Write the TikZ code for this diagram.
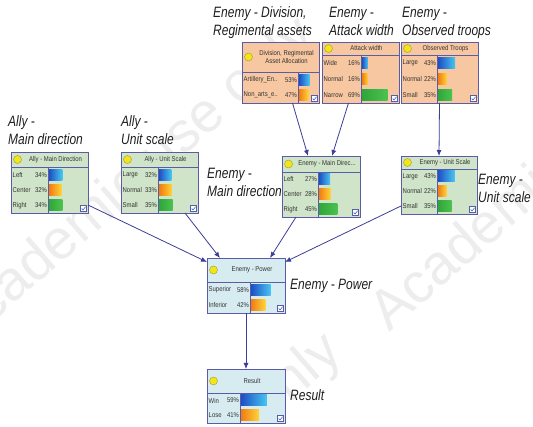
\documentclass[tikz,border=0pt]{standalone}
\usepackage{fontspec}
\setmainfont{Liberation Sans}
\newfontfamily\boxfont[FakeStretch=0.85]{Liberation Sans}
\newfontfamily\tagfont[FakeStretch=0.8]{Liberation Sans}
\usetikzlibrary{arrows.meta,calc}
\definecolor{bnedge}{HTML}{5B5BA6}
\definecolor{linkblue}{HTML}{3E3E94}
\definecolor{lampyellow}{HTML}{F2E51C}
\definecolor{lampedge}{HTML}{A09A30}
\definecolor{boxgreen}{HTML}{CFE4C8}
\definecolor{boxpeach}{HTML}{F7C7A1}
\definecolor{boxice}{HTML}{D7ECF1}
\definecolor{sbL}{HTML}{1E4FC4}
\definecolor{sbR}{HTML}{48C6F2}
\definecolor{orL}{HTML}{F07C12}
\definecolor{orR}{HTML}{FFD43A}
\definecolor{gnL}{HTML}{2EA63A}
\definecolor{gnR}{HTML}{4CC24E}
\definecolor{chkblue}{HTML}{3A6FD0}
\colorlet{tagtext}{black!88}
\colorlet{boxtext}{black!80}
\colorlet{wmgray}{black!7}
\tikzset{bnbox/.style={draw=bnedge, line width=0.9pt, inner sep=0pt, outer sep=0pt},
    bnline/.style={draw=bnedge, line width=0.7pt},
    lamp/.style={circle, fill=lampyellow, draw=lampedge, line width=0.4pt, minimum size=8pt, inner sep=0pt},
    bntitle/.style={font=\boxfont\fontsize{7}{7.5}\selectfont, align=center, inner sep=0pt, text=boxtext},
    bntext/.style={font=\boxfont\fontsize{7}{8}\selectfont, inner sep=0pt, text=boxtext},
    chk/.style={draw=bnedge, fill=white, line width=0.5pt, minimum size=6pt, inner sep=0pt},
    chkmark/.style={draw=chkblue, line width=0.6pt},
    link/.style={draw=linkblue, line width=0.8pt, -{Latex[length=6pt,width=5pt]}},
    tag/.style={font=\tagfont\itshape\fontsize{15}{18.5}\selectfont, align=left, anchor=base west, inner sep=0pt, text=tagtext},
    watermark/.style={font=\fontsize{56}{56}\selectfont, text=wmgray, rotate=41, inner sep=0pt}}
% name, fill, top left, width, height, title height, state column, title, states
\def\bnnode#1#2#3#4#5#6#7#8#9{%
    \node[bnbox, fill=#2, minimum width=#4, minimum height=#5, anchor=north west] (#1) at (#3) {};
    \draw[bnline] ($(#1.north west)+(0,#6)$) -- ($(#1.north east)+(0,#6)$)
                  ($(#1.north west)+(#7,#6)$) -- ($(#1.south west)+(#7,0)$);
    \node[lamp] at ($(#1.north west)+(6.5,{#6/2})$) {};
    \node[bntitle] at ($(#1.north)+(6,{#6/2})$) {#8};
    \foreach \st [count=\row] in {#9} {\xdef\nst{\row}}
    \pgfmathsetmacro\rowh{(#5-#6)/\nst}
    \foreach \sname/\pc/\col [count=\row] in {#9} {
        \coordinate (r) at ($(#1.north west)+(0,{#6+(\row-0.5)*\rowh})$);
        \node[bntext, anchor=west] at ($(r)+(1.5,0)$) {\sname};
        \node[bntext, anchor=east] at ($(r)+(#7-0.8,0)$) {\pc\%};
        \shade[left color=\col L, right color=\col R] ($(r)+(#7+1,-5.5)$) rectangle ++({\pc/100*(#4-#7-1)},11);
    }
    \node[chk] (#1-chk) at ($(#1.south east)+(-4.5,-4.5)$) {};
    \draw[chkmark] ($(#1-chk)+(-1.8,0)$) -- ++(1.3,1.5) -- ++(2.6,-3.2);
}

\begin{document}
\begin{tikzpicture}[x=1pt, y=-1pt]
    \useasboundingbox[fill=white] (0,0) rectangle (533,427);
    % watermark
    \node[watermark, anchor=west] (wm1) at (-47,338) {Academic use only};
    \node[watermark, anchor=west] (wm2) at (380,322) {Academic use only};
    \node[watermark, anchor=east] (wm3) at (335,345) {only};

    \bnnode{allydir}{boxgreen}{11,152}{77}{61}{15}{37}{Ally - Main Direction}{Left/34/sb, Center/32/or, Right/34/gn}
    \bnnode{allyscale}{boxgreen}{121,152}{77}{61}{15}{37}{Ally - Unit Scale}{Large/32/sb, Normal/33/or, Small/35/gn}
    \bnnode{division}{boxpeach}{242,42}{77}{61}{30}{56}{Division, Regimental\\Asset Allocation}{Artillery\_En../53/sb, Non\_arts\_e../47/or}
    \bnnode{attack}{boxpeach}{322,42}{77}{61}{13}{39}{Attack width}{Wide/16/sb, Normal/16/or, Narrow/69/gn}
    \bnnode{observed}{boxpeach}{401,42}{77}{61}{13}{36}{Observed Troops}{Large/43/sb, Normal/22/or, Small/35/gn}
    \bnnode{enemydir}{boxgreen}{282,156}{78}{61}{16}{36}{Enemy - Main Direc...}{Left/27/sb, Center/28/or, Right/45/gn}
    \bnnode{enemyscale}{boxgreen}{401,156}{76}{58}{13}{36}{Enemy - Unit Scale}{Large/43/sb, Normal/22/or, Small/35/gn}
    \bnnode{power}{boxice}{207,258}{78}{55}{24}{43}{Enemy - Power}{Superior/58/sb, Inferior/42/or}
    \bnnode{result}{boxice}{207,369}{78}{54}{24}{33}{Result}{Win/59/sb, Lose/41/or}

    % labels, placed by the baseline of their last line
    \node[tag] (tallydir) at (8,145) {Ally -\\Main direction};
    \node[tag] (tallyscale) at (121,145) {Ally -\\Unit scale};
    \node[tag] (tdivision) at (213,36) {Enemy - Division,\\Regimental assets};
    \node[tag] (tattack) at (329,36) {Enemy -\\Attack width};
    \node[tag] (tobserved) at (402,36) {Enemy -\\Observed troops};
    \node[tag] (tenemydir) at (207,197) {Enemy -\\Main direction};
    \node[tag] (tenemyscale) at (478,203) {Enemy -\\Unit scale};
    \node[tag] (tpower) at (290,290) {Enemy - Power};
    \node[tag] (tresult) at (290,401) {Result};

    \draw[link] ([xshift=12]division.south) -- ([xshift=-13]enemydir.north);
    \draw[link] ([xshift=-12]attack.south) -- ([xshift=11]enemydir.north);
    \draw[link] (observed.south) -- (enemyscale.north);
    \draw[link] ([yshift=8]allydir.south east) -- ([yshift=-4]power.north west);
    \draw[link] ([xshift=-13]allyscale.south east) -- ([xshift=13]power.north west);
    \draw[link] ([xshift=14]enemydir.south west) -- ([xshift=-15]power.north east);
    \draw[link] ([yshift=8]enemyscale.south west) -- ([yshift=-4]power.north east);
    \draw[link] (power) -- (result);
\end{tikzpicture}
\end{document}
